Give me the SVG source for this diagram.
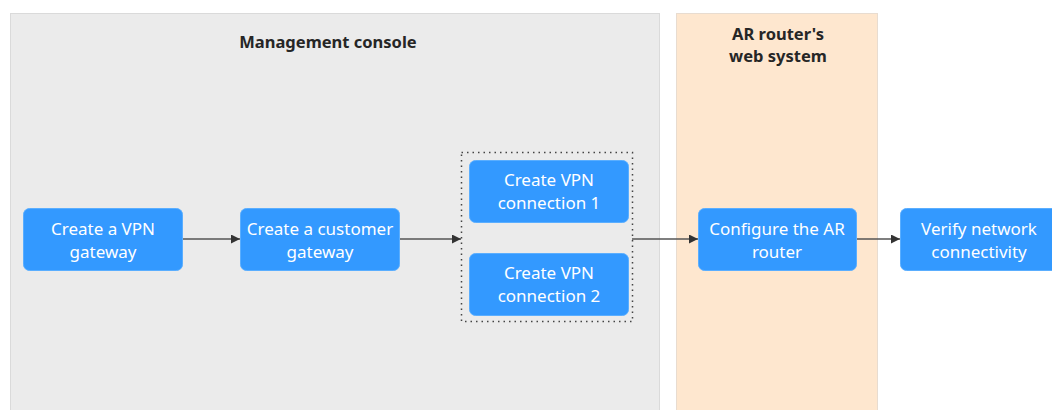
<svg xmlns="http://www.w3.org/2000/svg" width="1052" height="410" viewBox="0 0 1052 410">
<style>
.panel-g{fill:#EBEBEB;stroke:#DADADA;stroke-width:1}
.panel-o{fill:#FEE7CF;stroke:#E8DCD0;stroke-width:1}
.title{font-family:"Noto Sans","Open Sans",sans-serif;font-size:16.5px;font-weight:bold;fill:#262626;text-anchor:middle}
.box{fill:#3399FF;stroke:#5AAEFF;stroke-width:1}
.lbl{font-family:"Noto Sans","Open Sans",sans-serif;font-size:17px;fill:#FFFFFF;text-anchor:middle}
.conn{stroke:#555555;stroke-width:1.5;fill:none;marker-end:url(#arr)}
</style>
<defs>
<marker id="arr" viewBox="0 0 10 10" refX="10" refY="5" markerWidth="9" markerHeight="9" markerUnits="userSpaceOnUse" orient="auto">
<path d="M0,0 L10,5 L0,10 z" fill="#333333"/>
</marker>
</defs>
<g id="panel-console">
<rect class="panel-g" x="10.5" y="13.5" width="649" height="400"/>
<text class="title" x="328" y="48">Management console</text>
</g>
<g id="panel-ar">
<rect class="panel-o" x="676.5" y="13.5" width="201" height="400"/>
<text class="title" x="778" y="40">AR router's</text>
<text class="title" x="778" y="62">web system</text>
</g>
<g id="connectors">
<line class="conn" x1="182" y1="239" x2="240" y2="239"/>
<line class="conn" x1="399" y1="239" x2="461" y2="239"/>
<line class="conn" x1="632" y1="239" x2="698" y2="239"/>
<line class="conn" x1="856" y1="239" x2="900" y2="239"/>
</g>
<g id="group-connections">
<rect x="461.5" y="152.5" width="171" height="169" fill="none" stroke="#444" stroke-width="1.5" stroke-dasharray="1.5 4"/>
</g>
<g id="node-vpn-gateway">
<rect class="box" x="23.5" y="208.5" width="159" height="62" rx="6"/>
<text class="lbl" x="103" y="235">Create a VPN</text>
<text class="lbl" x="103" y="258">gateway</text>
</g>
<g id="node-customer-gateway">
<rect class="box" x="240.5" y="208.5" width="159" height="62" rx="6"/>
<text class="lbl" x="320" y="235">Create a customer</text>
<text class="lbl" x="320" y="258">gateway</text>
</g>
<g id="node-conn1">
<rect class="box" x="469.5" y="160.5" width="159" height="62" rx="6"/>
<text class="lbl" x="549" y="186">Create VPN</text>
<text class="lbl" x="549" y="209">connection 1</text>
</g>
<g id="node-conn2">
<rect class="box" x="469.5" y="253.5" width="159" height="62" rx="6"/>
<text class="lbl" x="549" y="279">Create VPN</text>
<text class="lbl" x="549" y="302">connection 2</text>
</g>
<g id="node-ar">
<rect class="box" x="698.5" y="208.5" width="158" height="62" rx="6"/>
<text class="lbl" x="777" y="235">Configure the AR</text>
<text class="lbl" x="777" y="258">router</text>
</g>
<g id="node-verify">
<rect class="box" x="900.5" y="208.5" width="158" height="62" rx="6"/>
<text class="lbl" x="979" y="235">Verify network</text>
<text class="lbl" x="979" y="258">connectivity</text>
</g>
</svg>
